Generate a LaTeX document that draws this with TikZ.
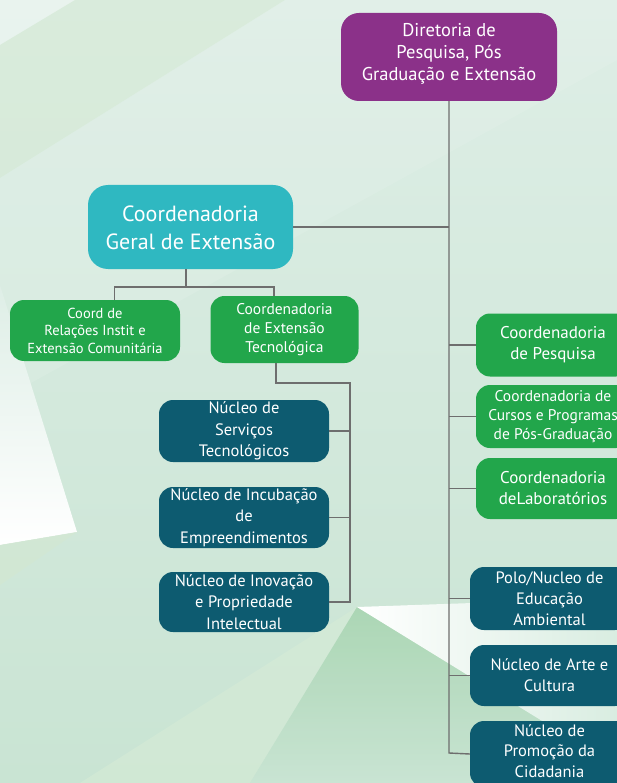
\documentclass[tikz,border=0pt]{standalone}
\usepackage{fontspec}
\newfontfamily\nf{PT Sans}
\definecolor{cpurple}{HTML}{8B3189}
\definecolor{ccyan}{HTML}{2FB8C1}
\definecolor{cgreen}{HTML}{22A64B}
\definecolor{cblue}{HTML}{0D5B70}
\definecolor{linegray}{HTML}{6E6E6E}
\definecolor{bgtop}{HTML}{DEEEE6}
\definecolor{bgbot}{HTML}{C9E4D3}
\definecolor{bgband}{HTML}{D6EAD3}
\definecolor{bgband2}{HTML}{D3E8D2}
\definecolor{bgband3}{HTML}{D6EBD6}
\definecolor{bggreen}{HTML}{A8D5B1}
\definecolor{bgright}{HTML}{D9EDE1}
\newcommand{\shiftlines}[2]{\raisebox{#1}[\height][\depth]{\begin{tabular}{@{}c@{}}#2\end{tabular}}}
\begin{document}
\begin{tikzpicture}[x=1pt,y=-1pt,
  box/.style={rounded corners=14pt, inner sep=0pt, align=center, text=white},
  lnk/.style={draw=linegray, line width=1.4pt}]
\useasboundingbox (0,0) rectangle (617,783);
% background
\shade[top color=bgtop, bottom color=bgbot] (0,0) rectangle (617,783);
\fill[white, opacity=0.35] (0,0) -- (75,0) -- (0,45) -- cycle;
\fill[bgband, opacity=0.5] (75,0) -- (285,0) -- (0,178) -- (0,45) -- cycle;
\fill[white, opacity=0.1] (285,0) -- (617,0) -- (617,60) -- (0,400) -- (0,178) -- cycle;
\shade[top color=bgtop, bottom color=white] (0,285) -- (77,532) -- (0,545) -- cycle;
\fill[bgband2, opacity=0.7] (0,545) -- (77,532) -- (0,585) -- cycle;
\fill[bgband3, opacity=0.6] (357,607) -- (80,783) -- (250,783) -- cycle;
\shade[top color=bggreen, bottom color=bgbot, opacity=0.9] (357,607) -- (545,722) -- (520,783) -- (250,783) -- cycle;
\shade[left color=white, right color=bgright] (357,607) -- (617,598) -- (617,767) -- cycle;
% nodes
\node[box, rounded corners=18pt, fill=cpurple, minimum width=216pt, minimum height=88pt,
  font={\nf\fontsize{18.5}{22}\selectfont}] (top) at (449,57) {\shiftlines{3pt}{Diretoria de\\Pesquisa, Pós\\Graduação e Extensão}};
\node[box, rounded corners=20pt, fill=ccyan, minimum width=205pt, minimum height=84pt,
  font={\nf\fontsize{22}{28}\selectfont}] (cge) at (190.5,227) {\shiftlines{-3pt}{Coordenadoria\\Geral de Extensão}};
\node[box, fill=cgreen, minimum width=170pt, minimum height=61pt,
  font={\nf\fontsize{14.5}{17.5}\selectfont}] (crel) at (95,330.5) {Coord de\\Relações Instit e\\Extensão Comunitária};
\node[box, fill=cgreen, minimum width=148pt, minimum height=67pt,
  font={\nf\fontsize{15.5}{19}\selectfont}] (cet) at (284.5,329.5) {Coordenadoria\\de Extensão\\Tecnológica};
\node[box, fill=cblue, minimum width=170pt, minimum height=62pt,
  font={\nf\fontsize{16.5}{21.5}\selectfont}] (nst) at (244,431) {Núcleo de\\Serviços\\Tecnológicos};
\node[box, fill=cblue, minimum width=170pt, minimum height=61pt,
  font={\nf\fontsize{16.5}{21.5}\selectfont}] (nie) at (244,517.5) {Núcleo de Incubação\\de\\Empreendimentos};
\node[box, fill=cblue, minimum width=170pt, minimum height=60pt,
  font={\nf\fontsize{16.5}{21.5}\selectfont}] (nipi) at (244,602) {Núcleo de Inovação\\e Propriedade\\Intelectual};
\node[box, fill=cgreen, minimum width=154pt, minimum height=63pt,
  font={\nf\fontsize{17}{21}\selectfont}] (cp) at (553,345) {Coordenadoria\\de Pesquisa};
\node[box, fill=cgreen, minimum width=154pt, minimum height=63pt,
  font={\nf\fontsize{15.5}{19}\selectfont}] (ccpg) at (553,416.5) {Coordenadoria de\\Cursos e Programas\\de Pós-Graduação};
\node[box, fill=cgreen, minimum width=154pt, minimum height=61pt,
  font={\nf\fontsize{17}{21}\selectfont}] (cl) at (553,488.5) {Coordenadoria\\deLaboratórios};
\node[box, fill=cblue, minimum width=159pt, minimum height=63pt,
  font={\nf\fontsize{16.5}{21}\selectfont}] (polo) at (549.5,598.5) {Polo/Nucleo de\\Educação\\Ambiental};
\node[box, fill=cblue, minimum width=159pt, minimum height=61pt,
  font={\nf\fontsize{16.5}{21}\selectfont}] (nac) at (549.5,675.5) {Núcleo de Arte e\\Cultura};
\node[box, fill=cblue, minimum width=159pt, minimum height=66pt,
  font={\nf\fontsize{16.5}{20.5}\selectfont}] (npc) at (549.5,754) {\shiftlines{1.5pt}{Núcleo de\\Promoção da\\Cidadania}};
% connectors
\coordinate (tbot) at (449,753);
\draw[lnk] (top.south) -- (tbot) -- (npc.west);
\draw[lnk] (cge.east) -- (cge.east -| tbot);
\foreach \n in {cp,ccpg,cl,polo,nac} \draw[lnk] (\n.west) -- (\n.west -| tbot);
\coordinate (cgj) at (186,287);
\coordinate (lj) at (114.5,287);
\coordinate (rj) at (274,287);
\draw[lnk] (cge.south -| cgj) -- (cgj);
\draw[lnk] (crel.north -| lj) -- (lj) -- (rj) -- (cet.north -| rj);
\coordinate (ctj) at (276,383);
\coordinate (bj) at (350,383);
\draw[lnk] (cet.south -| ctj) -- (ctj) -- (bj) -- (nipi.east -| bj) -- (nipi.east);
\draw[lnk] (nst.east) -- (nst.east -| bj);
\draw[lnk] (nie.east) -- (nie.east -| bj);
\end{tikzpicture}
\end{document}
